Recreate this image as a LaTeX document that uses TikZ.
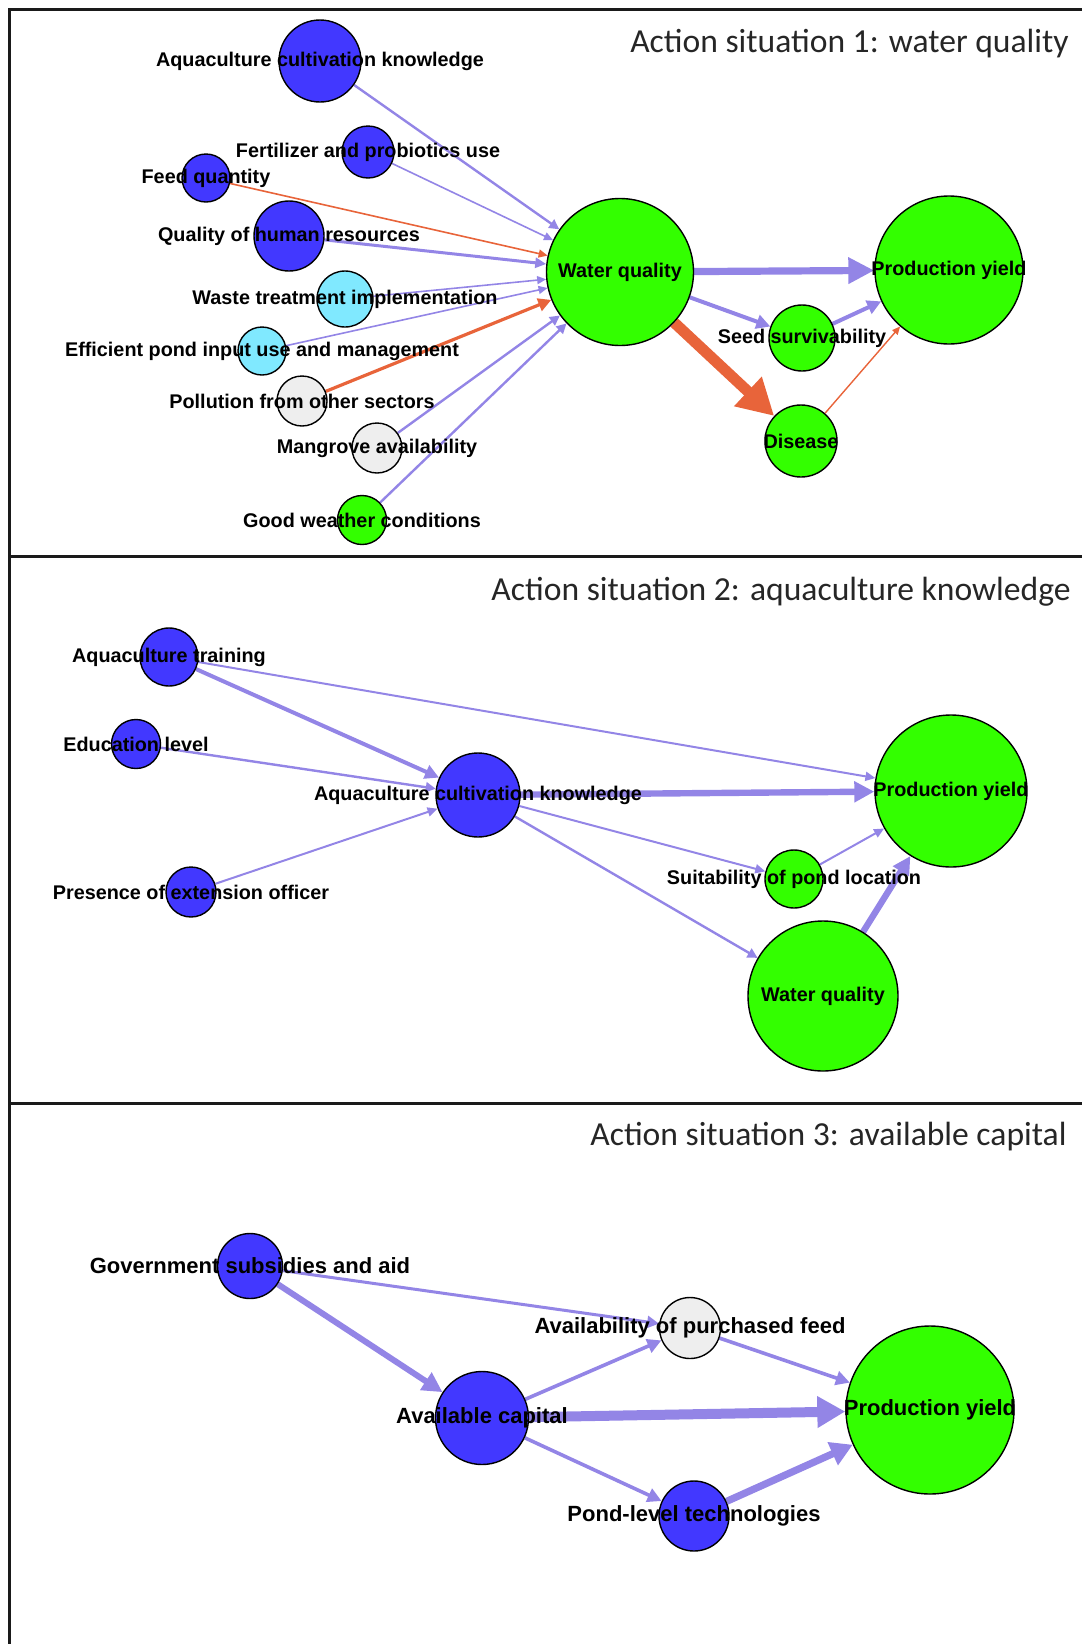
\documentclass[tikz,border=0pt]{standalone}
\usepackage{fontspec}
\setmainfont{Liberation Sans}
\newfontfamily\titlefont{Carlito}
\usetikzlibrary{arrows.meta}
\pgfdeclarelayer{edges}
\pgfsetlayers{edges,main}

\definecolor{nodeblue}{RGB}{66,56,255}
\definecolor{nodegreen}{RGB}{51,255,0}
\definecolor{nodecyan}{RGB}{128,233,255}
\definecolor{nodegrey}{RGB}{238,238,238}
\definecolor{linkpos}{RGB}{147,133,230}
\definecolor{linkneg}{RGB}{232,100,58}
\definecolor{framegrey}{RGB}{26,26,26}
\definecolor{titlegrey}{RGB}{38,38,38}

\tikzset{
  % #1 = radius in pixels of the drawing grid (1 px = 0.5 pt)
  varnode/.style={circle, draw=black, line width=0.7pt, inner sep=0pt, minimum size=#1pt},
  fblue/.style={fill=nodeblue},
  fgreen/.style={fill=nodegreen},
  fcyan/.style={fill=nodecyan},
  fgrey/.style={fill=nodegrey},
  % #1 = line width, #2 = tip length, #3 = tip width (all pt)
  lnk/.style n args={3}{line width=#1pt, -{Triangle[length=#2pt,width=#3pt]}},
  poslink/.style={draw=linkpos, fill=linkpos},
  neglink/.style={draw=linkneg, fill=linkneg},
  lbl/.style={font=\fontsize{9.9}{11}\selectfont\bfseries, inner sep=0pt},
  lblb/.style={font=\fontsize{11}{13}\selectfont\bfseries, inner sep=0pt},
  ttl/.style={font=\titlefont\fontsize{16.8}{20}\selectfont, text=titlegrey,
              anchor=base east, inner sep=0pt},
  panelframe/.style={draw=framegrey, line width=1.5pt}
}

\begin{document}
\begin{tikzpicture}[x=0.5pt, y=-0.5pt]
\useasboundingbox (0,0) rectangle (1082,1644);

% panel frame and separators
\draw[panelframe] (9,1644) -- (9,9) -- (1082,9);
\draw[panelframe] (9,556) -- (1082,556);
\draw[panelframe] (9,1103) -- (1082,1103);

% ---------------- Action situation 1 ----------------
\node[ttl] (t1) at (1069,52) {Action situation 1: water quality};

\node[varnode=41, fblue]   (p1ack)   at (320,61)  {};
\node[varnode=26, fblue]   (p1fert)  at (368,152) {};
\node[varnode=24, fblue]   (p1feed)  at (206,178) {};
\node[varnode=35, fblue]   (p1qhr)   at (289,236) {};
\node[varnode=28, fcyan]   (p1waste) at (345,299) {};
\node[varnode=24, fcyan]   (p1eff)   at (262,351) {};
\node[varnode=25, fgrey]   (p1poll)  at (302,401) {};
\node[varnode=25, fgrey]   (p1mang)  at (377,448) {};
\node[varnode=24.5, fgreen] (p1good) at (362,520) {};
\node[varnode=73.5, fgreen] (p1wq)   at (620,272) {};
\node[varnode=74, fgreen]  (p1py)    at (949,270) {};
\node[varnode=33, fgreen]  (p1seed)  at (802,338) {};
\node[varnode=36, fgreen]  (p1dis)   at (801,441) {};

\begin{pgfonlayer}{edges}
\draw[poslink, lnk={1.2}{5}{5}]     (p1ack)   -- (p1wq);
\draw[poslink, lnk={0.8}{4.5}{4}]   (p1fert)  -- (p1wq);
\draw[neglink, lnk={0.8}{4.5}{4}]   (p1feed)  -- (p1wq);
\draw[poslink, lnk={1.5}{5.5}{5}]   (p1qhr)   -- (p1wq);
\draw[poslink, lnk={0.8}{4.5}{4}]   (p1waste) -- (p1wq);
\draw[poslink, lnk={0.8}{4.5}{4}]   (p1eff)   -- (p1wq);
\draw[neglink, lnk={1.6}{6.5}{6.5}] (p1poll)  -- (p1wq);
\draw[poslink, lnk={1.2}{5}{5}]     (p1mang)  -- (p1wq);
\draw[poslink, lnk={1.2}{5}{5}]     (p1good)  -- (p1wq);
\draw[poslink, lnk={3.6}{13}{12.5}] (p1wq)    -- (p1py);
\draw[poslink, lnk={2}{7}{7}]       (p1wq)    -- (p1seed);
\draw[poslink, lnk={2}{7}{7}]       (p1seed)  -- (p1py);
\draw[neglink, lnk={5.5}{18}{19}]   (p1wq)    -- (p1dis);
\draw[neglink, lnk={0.7}{4}{3.5}]   (p1dis)   -- (p1py);
\end{pgfonlayer}

\node[lbl] (l1ack)   at (p1ack)   {Aquaculture cultivation knowledge};
\node[lbl] (l1fert)  at (p1fert)  {Fertilizer and probiotics use};
\node[lbl] (l1feed)  at (p1feed)  {Feed quantity};
\node[lbl] (l1qhr)   at (p1qhr)   {Quality of human resources};
\node[lbl] (l1waste) at (p1waste) {Waste treatment implementation};
\node[lbl] (l1eff)   at (p1eff)   {Efficient pond input use and management};
\node[lbl] (l1poll)  at (p1poll)  {Pollution from other sectors};
\node[lbl] (l1mang)  at (p1mang)  {Mangrove availability};
\node[lbl] (l1good)  at (p1good)  {Good weather conditions};
\node[lbl] (l1wq)    at (p1wq)    {Water quality};
\node[lbl] (l1py)    at (p1py)    {Production yield};
\node[lbl] (l1seed)  at (p1seed)  {Seed survivability};
\node[lbl] (l1dis)   at (p1dis)   {Disease};

% ---------------- Action situation 2 ----------------
\node[ttl] (t2) at (1071,600) {Action situation 2: aquaculture knowledge};

\node[varnode=29, fblue]   (p2at)   at (169,657) {};
\node[varnode=24.5, fblue] (p2el)   at (136,744) {};
\node[varnode=25, fblue]   (p2peo)  at (191,892) {};
\node[varnode=42, fblue]   (p2ack)  at (478,795) {};
\node[varnode=76, fgreen]  (p2py)   at (951,791) {};
\node[varnode=29, fgreen]  (p2suit) at (794,879) {};
\node[varnode=75, fgreen]  (p2wq)   at (823,996) {};

\begin{pgfonlayer}{edges}
\draw[poslink, lnk={2}{7}{7}]     (p2at)   -- (p2ack);
\draw[poslink, lnk={1}{5}{4.5}]   (p2at)   -- (p2py);
\draw[poslink, lnk={1.2}{5}{5}]   (p2el)   -- (p2ack);
\draw[poslink, lnk={1}{5}{4.5}]   (p2peo)  -- (p2ack);
\draw[poslink, lnk={3.2}{10}{10}] (p2ack)  -- (p2py);
\draw[poslink, lnk={1}{5}{4.5}]   (p2ack)  -- (p2suit);
\draw[poslink, lnk={1.2}{5}{5}]   (p2ack)  -- (p2wq);
\draw[poslink, lnk={1}{5}{4.5}]   (p2suit) -- (p2py);
\draw[poslink, lnk={3.2}{9}{9}]   (p2wq)   -- (p2py);
\end{pgfonlayer}

\node[lbl] (l2at)   at (p2at)   {Aquaculture training};
\node[lbl] (l2el)   at (p2el)   {Education level};
\node[lbl] (l2peo)  at (p2peo)  {Presence of extension officer};
\node[lbl] (l2ack)  at (p2ack)  {Aquaculture cultivation knowledge};
\node[lbl] (l2py)   at (p2py)   {Production yield};
\node[lbl] (l2suit) at (p2suit) {Suitability of pond location};
\node[lbl] (l2wq)   at (p2wq)   {Water quality};

% ---------------- Action situation 3 ----------------
\node[ttl] (t3) at (1067,1145) {Action situation 3: available capital};

\node[varnode=32.5, fblue] (p3gov) at (250,1266) {};
\node[varnode=46.5, fblue] (p3ac)  at (482,1418) {};
\node[varnode=30.5, fgrey] (p3apf) at (690,1328) {};
\node[varnode=35, fblue]   (p3plt) at (694,1516) {};
\node[varnode=84, fgreen]  (p3py)  at (930,1410) {};

\begin{pgfonlayer}{edges}
\draw[poslink, lnk={3}{10}{10}]   (p3gov) -- (p3ac);
\draw[poslink, lnk={1.5}{6}{6}]   (p3gov) -- (p3apf);
\draw[poslink, lnk={1.8}{7}{7}]   (p3ac)  -- (p3apf);
\draw[poslink, lnk={5}{14}{15}]   (p3ac)  -- (p3py);
\draw[poslink, lnk={1.8}{7}{7}]   (p3ac)  -- (p3plt);
\draw[poslink, lnk={1.8}{7}{7}]   (p3apf) -- (p3py);
\draw[poslink, lnk={3.6}{11}{12}] (p3plt) -- (p3py);
\end{pgfonlayer}

\node[lblb] (l3gov) at (p3gov) {Government subsidies and aid};
\node[lblb] (l3ac)  at (p3ac)  {Available capital};
\node[lblb] (l3apf) at (p3apf) {Availability of purchased feed};
\node[lblb] (l3plt) at (p3plt) {Pond-level technologies};
\node[lblb] (l3py)  at (p3py)  {Production yield};
\end{tikzpicture}
\end{document}
